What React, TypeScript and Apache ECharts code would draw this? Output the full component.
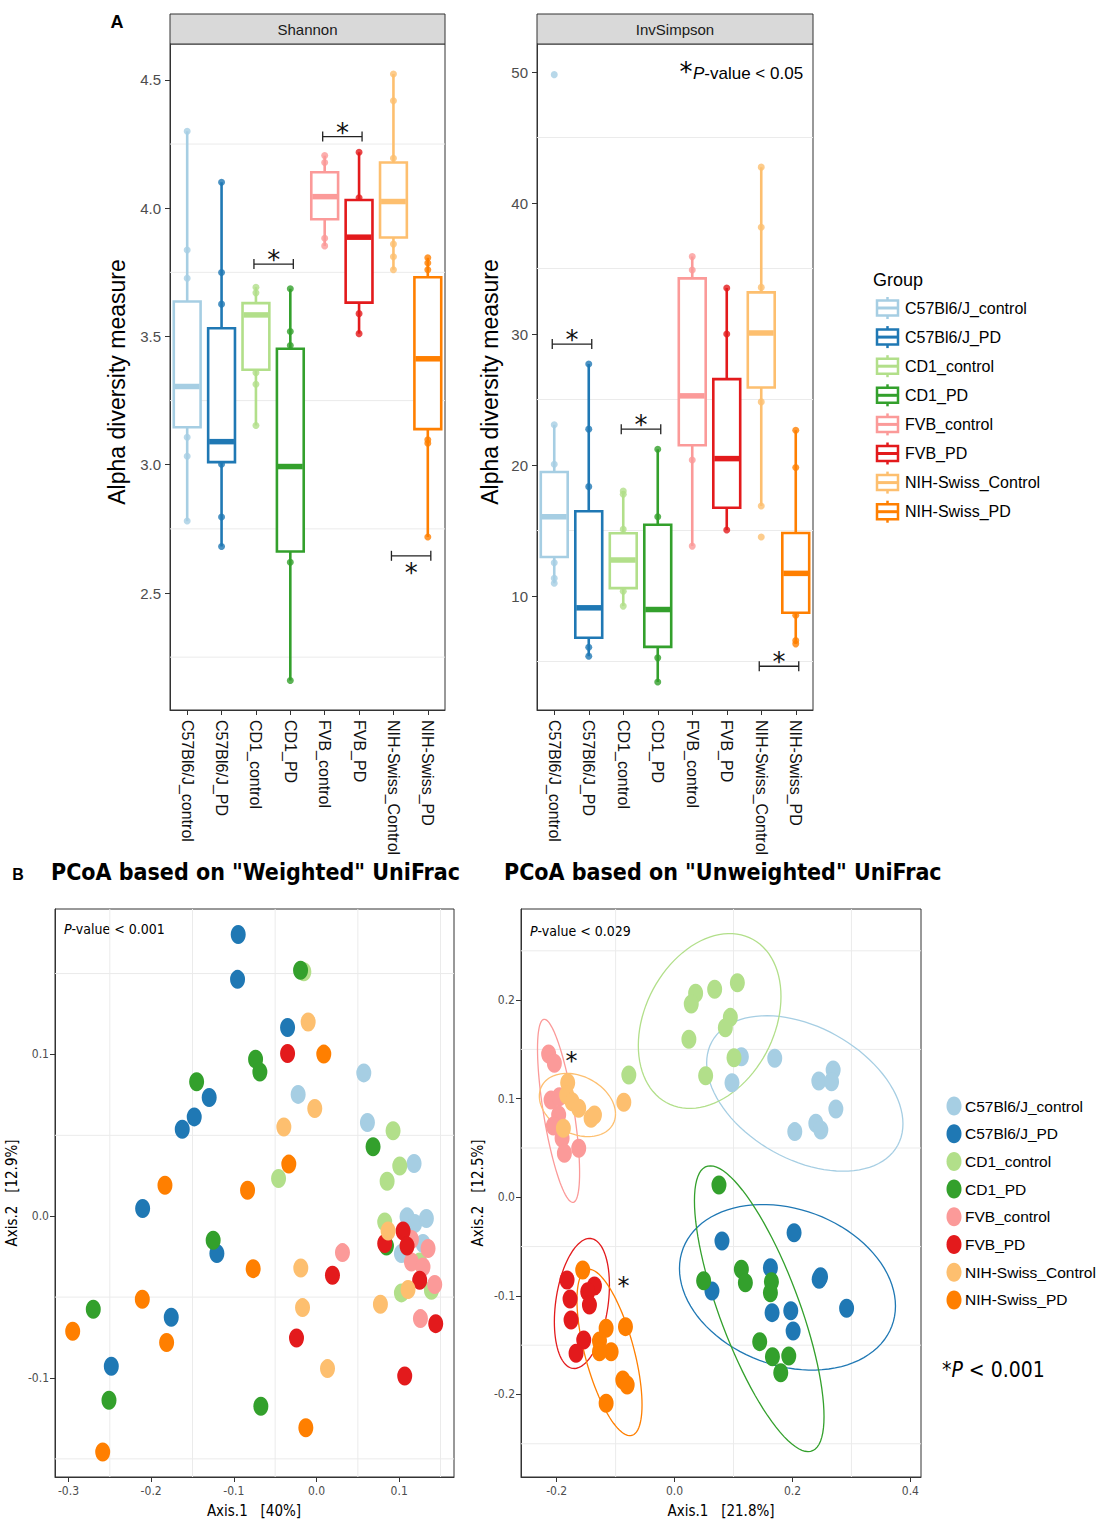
import React, { useEffect, useRef } from 'react';
import * as echarts from 'echarts';

// ---------- data ----------
const GROUPS = ['C57Bl6/J_control', 'C57Bl6/J_PD', 'CD1_control', 'CD1_PD', 'FVB_control', 'FVB_PD', 'NIH-Swiss_Control', 'NIH-Swiss_PD'];
const COLORS = ['#A6CEE3', '#1F78B4', '#B2DF8A', '#33A02C', '#FB9A99', '#E31A1C', '#FDBF6F', '#FF7F00'];

// [min, q1, median, q3, max]
const SHANNON_BOX = [
  [2.78, 3.146, 3.305, 3.636, 4.30],
  [2.681, 3.01, 3.09, 3.532, 4.101],
  [3.153, 3.37, 3.584, 3.63, 3.692],
  [2.159, 2.662, 2.993, 3.452, 3.686],
  [3.853, 3.957, 4.045, 4.14, 4.205],
  [3.511, 3.632, 3.887, 4.032, 4.218],
  [3.76, 3.886, 4.026, 4.178, 4.523],
  [2.718, 3.139, 3.413, 3.731, 3.807],
];
const SHANNON_POINTS = [
  [4.30, 3.837, 3.727, 3.107, 3.033, 2.781],
  [4.101, 3.749, 3.626, 3.002, 2.796, 2.681],
  [3.692, 3.67, 3.359, 3.314, 3.153],
  [3.686, 3.519, 3.465, 2.62, 2.159],
  [4.205, 4.178, 3.883, 3.853],
  [4.218, 4.041, 3.589, 3.511],
  [4.523, 4.419, 4.195, 3.86, 3.811, 3.76],
  [3.807, 3.786, 3.76, 3.097, 3.084, 2.718],
];
const INVS_BOX = [
  [10.97, 12.98, 16.05, 19.47, 23.07],
  [5.41, 6.81, 9.1, 16.47, 27.71],
  [9.23, 10.6, 12.75, 14.79, 18.02],
  [3.44, 6.12, 8.97, 15.44, 21.2],
  [13.81, 21.51, 25.28, 34.25, 35.91],
  [15.04, 16.74, 20.49, 26.56, 33.52],
  [16.87, 25.92, 30.08, 33.18, 42.74],
  [6.35, 8.72, 11.73, 14.81, 22.66],
];
const INVS_POINTS = [
  [49.8, 23.07, 20.06, 12.54, 11.35, 10.97],
  [27.71, 22.74, 18.35, 6.09, 5.41],
  [18.02, 17.77, 15.09, 10.37, 9.23],
  [21.2, 16.05, 5.28, 3.44],
  [35.91, 34.89, 20.39, 13.81],
  [33.52, 30.0, 15.04],
  [42.74, 38.15, 33.56, 24.82, 16.87, 14.5],
  [22.66, 19.81, 8.54, 6.6, 6.35],
];
// [group a, group b, y value, direction of star (1 above, -1 below)]
const SHANNON_SIG = [[2, 3, 3.782, 1], [4, 5, 4.279, 1], [6, 7, 2.645, -1]];
const INVS_SIG = [[0, 1, 29.23, 1], [2, 3, 22.74, 1], [6, 7, 4.64, 1]];

const SHANNON_TICKS = [2.5, 3.0, 3.5, 4.0, 4.5];
const SHANNON_GRID = [2.25, 2.75, 3.25, 3.75, 4.25];
const INVS_TICKS = [10, 20, 30, 40, 50];
const INVS_GRID = [5, 15, 25, 35, 45];

// Weighted UniFrac PCoA points per group [Axis.1, Axis.2]
const W_C57_CONTROL = [[0.0572, 0.0886], [-0.0222, 0.0753], [0.0616, 0.0579], [0.118, 0.0326], [0.1095, -0.0004], [0.1188, -0.0045], [0.1329, -0.0014], [0.1288, -0.0169], [0.1027, -0.0231]];
const W_C57_PD = [[-0.0947, 0.1742], [-0.0955, 0.1464], [-0.035, 0.1167], [-0.1298, 0.0734], [-0.1479, 0.0614], [-0.1624, 0.0538], [-0.2103, 0.0048], [-0.1205, -0.0231], [-0.1757, -0.0625], [-0.2482, -0.0928]];
const W_CD1_CONTROL = [[-0.0153, 0.1511], [0.0926, 0.0528], [0.1007, 0.0311], [0.0854, 0.0216], [-0.0459, 0.0233], [0.0825, -0.0035], [0.1248, -0.0283], [0.139, -0.0458], [0.1027, -0.0474]];
const W_CD1_PD = [[-0.0193, 0.1521], [-0.0737, 0.0971], [-0.0685, 0.0892], [-0.145, 0.0831], [0.0684, 0.0429], [0.0846, -0.0184], [-0.125, -0.0148], [-0.27, -0.0575], [-0.251, -0.1138], [-0.0673, -0.1175]];
const W_FVB_CONTROL = [[0.1148, -0.0144], [0.1349, -0.02], [0.1148, -0.0283], [0.1288, -0.0314], [0.143, -0.0422], [0.1257, -0.0633], [0.0314, -0.0225]];
const W_FVB_PD = [[-0.035, 0.1006], [0.1047, -0.0091], [0.0825, -0.0169], [0.1095, -0.0184], [0.1248, -0.0396], [0.1442, -0.0664], [0.1067, -0.0988], [0.0193, -0.0365], [-0.0242, -0.0753]];
const W_NIH_CONTROL = [[-0.0101, 0.12], [-0.0021, 0.0666], [-0.0395, 0.0552], [0.0866, -0.0091], [0.1107, -0.0453], [0.0773, -0.0544], [-0.019, -0.032], [-0.0169, -0.0565], [0.0133, -0.0942]];
const W_NIH_PD = [[0.0088, 0.1002], [-0.0335, 0.0322], [-0.1833, 0.0192], [-0.0834, 0.0161], [-0.0766, -0.0324], [-0.2107, -0.0513], [-0.2949, -0.0711], [-0.1813, -0.0781], [-0.2586, -0.1458], [-0.0129, -0.1307]];
const WEIGHTED = [W_C57_CONTROL, W_C57_PD, W_CD1_CONTROL, W_CD1_PD, W_FVB_CONTROL, W_FVB_PD, W_NIH_CONTROL, W_NIH_PD];

// Unweighted UniFrac PCoA points per group
const U_C57_CONTROL = [[0.1133, 0.1426], [0.1699, 0.141], [0.0974, 0.1162], [0.269, 0.1291], [0.2447, 0.118], [0.2663, 0.1172], [0.2736, 0.0896], [0.2396, 0.075], [0.2481, 0.0683], [0.2039, 0.0666]];
const U_C57_PD = [[0.0804, -0.0443], [0.2027, -0.0359], [0.0634, -0.095], [0.1626, -0.0714], [0.2453, -0.0832], [0.2476, -0.0805], [0.2918, -0.1126], [0.1654, -0.117], [0.1971, -0.115], [0.2011, -0.1356]];
const U_CD1_CONTROL = [[-0.0776, 0.124], [0.0357, 0.2069], [0.0283, 0.196], [0.068, 0.211], [0.1065, 0.2177], [0.0946, 0.1825], [0.0861, 0.172], [0.0243, 0.1602], [0.1008, 0.1416], [0.0527, 0.1233]];
const U_CD1_PD = [[0.0753, 0.0125], [0.0493, -0.0846], [0.1133, -0.073], [0.1201, -0.0866], [0.1643, -0.0856], [0.1626, -0.0968], [0.1444, -0.1464], [0.166, -0.1617], [0.1937, -0.161], [0.1801, -0.1779]];
const U_FVB_CONTROL = [[-0.2136, 0.1453], [-0.2039, 0.1359], [-0.2095, 0.0987], [-0.1954, 0.102], [-0.1966, 0.0835], [-0.2056, 0.0723], [-0.1908, 0.0598], [-0.1869, 0.0446], [-0.1626, 0.0497]];
const U_FVB_PD = [[-0.1824, -0.0839], [-0.1773, -0.1031], [-0.1756, -0.1244], [-0.1541, -0.1447], [-0.1671, -0.1582], [-0.1359, -0.09], [-0.1473, -0.0957], [-0.1444, -0.1092]];
const U_NIH_CONTROL = [[-0.1813, 0.1162], [-0.183, 0.1037], [-0.1738, 0.097], [-0.1626, 0.0903], [-0.1416, 0.0801], [-0.1359, 0.0835], [-0.1886, 0.07], [-0.0861, 0.0963]];
const U_NIH_PD = [[-0.1558, -0.0737], [-0.1161, -0.1329], [-0.1274, -0.1457], [-0.1076, -0.1566], [-0.1274, -0.1566], [-0.0833, -0.1312], [-0.0878, -0.1853], [-0.0804, -0.1904], [-0.1161, -0.2089]];
const UNWEIGHTED = [U_C57_CONTROL, U_C57_PD, U_CD1_CONTROL, U_CD1_PD, U_FVB_CONTROL, U_FVB_PD, U_NIH_CONTROL, U_NIH_PD];

// confidence ellipses: [centre x, centre y, axis-1 dx, axis-1 dy, axis-2 dx, axis-2 dy]
const U_ELLIPSES = [
  [0.2209, 0.1053, 0.1665, -0.0308, 0, -0.0726],
  [0.1915, -0.0913, 0.1832, -0.019, 0, -0.0818],
  [0.0595, 0.1788, 0.121, 0.0249, 0, -0.0851],
  [0.1436, -0.113, 0.1099, -0.1094, 0, -0.0951],
  [-0.1968, 0.0877, 0.0357, -0.0628, 0, -0.0684],
  [-0.1572, -0.1077, 0.0467, 0.0185, 0, -0.0633],
  [-0.1648, 0.0936, 0.0646, -0.009, 0, -0.0308],
  [-0.1104, -0.1574, 0.0552, -0.053, 0, -0.0657],
];
const U_STARS = [[-0.175, 0.1442], [-0.0867, -0.0835]];

const W_XTICKS = [-0.3, -0.2, -0.1, 0.0, 0.1];
const W_YTICKS = [-0.1, 0.0, 0.1];
const W_XGRID = [-0.25, -0.15, -0.05, 0.05, 0.15];
const W_YGRID = [-0.15, -0.05, 0.05, 0.15];
const U_XTICKS = [-0.2, 0.0, 0.2, 0.4];
const U_YTICKS = [-0.2, -0.1, 0.0, 0.1, 0.2];
const U_XGRID = [-0.1, 0.1, 0.3];
const U_YGRID = [-0.25, -0.15, -0.05, 0.05, 0.15, 0.25];

// ---------- styles ----------
const SANS = '"Liberation Sans", Arial, Helvetica, sans-serif';
const COND = '"DejaVu Sans Condensed", "Liberation Sans Narrow", "DejaVu Sans", sans-serif';

const gridLines = (xi: number, yi: number, rows: number[][]) => ({
  type: 'custom', xAxisIndex: xi, yAxisIndex: yi, silent: true, z: 1, clip: false,
  data: rows,
  renderItem: (params: any, api: any) => {
    const cs = params.coordSys;
    const p = api.coord([api.value(0), api.value(1)]);
    const vertical = api.value(2) === 1;
    return {
      type: 'line',
      shape: vertical ? { x1: p[0], y1: cs.y, x2: p[0], y2: cs.y + cs.height } : { x1: cs.x, y1: p[1], x2: cs.x + cs.width, y2: p[1] },
      style: { stroke: '#ebebeb', lineWidth: 1 },
    };
  },
});

const boxSeries = (xi: number, yi: number, boxes: number[][], points: number[][], sig: number[][]) => [
  {
    type: 'custom', xAxisIndex: xi, yAxisIndex: yi, z: 2, silent: true,
    data: boxes.map((b, i) => [i, b[0], b[4]]),
    renderItem: (params: any, api: any) => {
      const i = params.dataIndex;
      const a = api.coord([i, api.value(1)]);
      const b = api.coord([i, api.value(2)]);
      return { type: 'line', shape: { x1: a[0], y1: a[1], x2: b[0], y2: b[1] }, style: { stroke: COLORS[i], lineWidth: 2.6 } };
    },
  },
  {
    type: 'scatter', xAxisIndex: xi, yAxisIndex: yi, z: 3, silent: true, symbolSize: 7,
    data: points.flatMap((arr, i) => arr.map((v) => ({ value: [i, v], itemStyle: { color: COLORS[i] } }))),
  },
  {
    type: 'custom', xAxisIndex: xi, yAxisIndex: yi, z: 4, silent: true,
    data: boxes.map((b, i) => [i, ...b]),
    renderItem: (params: any, api: any) => {
      const i = params.dataIndex;
      const q1 = api.coord([i, api.value(2)]);
      const med = api.coord([i, api.value(3)]);
      const q3 = api.coord([i, api.value(4)]);
      const w = api.size([1, 0])[0] * 0.78;
      const c = COLORS[i];
      return {
        type: 'group',
        children: [
          { type: 'rect', shape: { x: q3[0] - w / 2, y: q3[1], width: w, height: q1[1] - q3[1] }, style: { fill: '#fff', stroke: c, lineWidth: 2.6 } },
          { type: 'line', shape: { x1: med[0] - w / 2 + 1, y1: med[1], x2: med[0] + w / 2 - 1, y2: med[1] }, style: { stroke: c, lineWidth: 5.5 } },
        ],
      };
    },
  },
  {
    type: 'custom', xAxisIndex: xi, yAxisIndex: yi, z: 5, silent: true, clip: false,
    data: sig,
    renderItem: (params: any, api: any) => {
      const p1 = api.coord([api.value(0), api.value(2)]);
      const p2 = api.coord([api.value(1), api.value(2)]);
      const dir = api.value(3);
      const x1 = p1[0] - 2;
      const x2 = p2[0] + 3;
      const y = p1[1];
      const st = { stroke: '#222', lineWidth: 1.3 };
      return {
        type: 'group',
        children: [
          { type: 'line', shape: { x1, y1: y, x2, y2: y }, style: st },
          { type: 'line', shape: { x1, y1: y - 5, x2: x1, y2: y + 5 }, style: st },
          { type: 'line', shape: { x1: x2, y1: y - 5, x2, y2: y + 5 }, style: st },
          {
            type: 'text', x: (x1 + x2) / 2, y: dir > 0 ? y - 4 : y + 17,
            style: { text: '*', fontSize: 26, fontFamily: '"DejaVu Sans", sans-serif', fill: '#111', align: 'center', verticalAlign: 'middle' },
          },
        ],
      };
    },
  },
];

const catXAxis = (gi: number) => ({
  gridIndex: gi, type: 'category', data: GROUPS, boundaryGap: true,
  axisLine: { show: true, onZero: false, lineStyle: { color: '#333' } },
  axisTick: { show: true, alignWithLabel: true, length: 5, lineStyle: { color: '#333' } },
  axisLabel: { rotate: -90, fontSize: 16, color: '#111', fontFamily: SANS, margin: 10, interval: 0 },
  splitLine: { show: false },
});

const valAxis = (gi: number, min: number, max: number, ticks: number[], fmt: (v: number) => string, font: string, size: number, margin: number) => ({
  gridIndex: gi, type: 'value', min, max,
  axisLine: { show: true, onZero: false, lineStyle: { color: '#333' } },
  axisTick: { show: true, length: 5, customValues: ticks, lineStyle: { color: '#333' } },
  axisLabel: { customValues: ticks, formatter: fmt, color: '#4d4d4d', fontSize: size, fontFamily: font, margin },
  splitLine: { show: false },
});

const pcoaFmt = (v: number) => (Math.abs(v) < 1e-9 ? '0.0' : v.toFixed(1));

export default function App() {
  const ref = useRef<HTMLDivElement>(null);

  useEffect(() => {
    if (!ref.current) return;
    const chart = echarts.init(ref.current, null, { renderer: 'svg' });

    const graphics: any[] = [];
    const txt = (x: number, y: number, text: string, extra: any = {}, rot = 0) => {
      graphics.push({ type: 'text', x, y, rotation: rot, style: { text, fill: '#000', fontFamily: SANS, fontSize: 14, align: 'left', verticalAlign: 'middle', ...extra } });
    };

    // panel A decorations
    txt(117, 22, 'A', { fontSize: 18, fontWeight: 'bold', align: 'center' });
    graphics.push({ type: 'rect', shape: { x: 170, y: 14, width: 275, height: 30 }, style: { fill: '#d9d9d9', stroke: '#333', lineWidth: 1 } });
    txt(307.5, 29.5, 'Shannon', { align: 'center', fill: '#1a1a1a', fontSize: 15 });
    graphics.push({ type: 'rect', shape: { x: 537, y: 14, width: 276, height: 30 }, style: { fill: '#d9d9d9', stroke: '#333', lineWidth: 1 } });
    txt(675, 29.5, 'InvSimpson', { align: 'center', fill: '#1a1a1a', fontSize: 15 });
    txt(117, 382, 'Alpha diversity measure', { fontSize: 23, align: 'center' }, Math.PI / 2);
    txt(490, 382, 'Alpha diversity measure', { fontSize: 23, align: 'center' }, Math.PI / 2);
    txt(686, 72, '*', { fontSize: 26, align: 'center', fontFamily: '"DejaVu Sans", sans-serif' });
    txt(693, 73, '{i|P}-value < 0.05', { fontSize: 17, rich: { i: { fontStyle: 'italic', fontSize: 17, fontFamily: SANS } } });

    // legend 1
    txt(873, 280, 'Group', { fontSize: 18 });
    GROUPS.forEach((g, i) => {
      const cy = 308 + i * 29.1;
      const c = COLORS[i];
      graphics.push({ type: 'line', shape: { x1: 887.5, y1: cy - 11, x2: 887.5, y2: cy + 11 }, style: { stroke: c, lineWidth: 2.5 } });
      graphics.push({ type: 'rect', shape: { x: 877, y: cy - 7.5, width: 21, height: 15 }, style: { fill: '#fff', stroke: c, lineWidth: 2.5 } });
      graphics.push({ type: 'line', shape: { x1: 877, y1: cy, x2: 898, y2: cy }, style: { stroke: c, lineWidth: 3 } });
      txt(905, cy, g, { fontSize: 16 });
    });

    // panel B decorations
    txt(18, 874, 'B', { fontSize: 16, fontWeight: 'bold', align: 'center' });
    txt(51, 872, 'PCoA based on "Weighted" UniFrac', { fontSize: 23, fontWeight: 'bold', fontFamily: COND });
    txt(504, 872, 'PCoA based on "Unweighted" UniFrac', { fontSize: 23, fontWeight: 'bold', fontFamily: COND });
    txt(64, 929, '{i|P}-value < 0.001', { fontSize: 14, fontFamily: COND, rich: { i: { fontStyle: 'italic', fontSize: 14, fontFamily: COND } } });
    txt(530, 931, '{i|P}-value < 0.029', { fontSize: 14, fontFamily: COND, rich: { i: { fontStyle: 'italic', fontSize: 14, fontFamily: COND } } });
    txt(254, 1511, 'Axis.1   [40%]', { fontSize: 15, fontFamily: COND, align: 'center' });
    txt(721, 1511, 'Axis.1   [21.8%]', { fontSize: 15, fontFamily: COND, align: 'center' });
    txt(12, 1193, 'Axis.2   [12.9%]', { fontSize: 15, fontFamily: COND, align: 'center' }, Math.PI / 2);
    txt(478, 1193, 'Axis.2   [12.5%]', { fontSize: 15, fontFamily: COND, align: 'center' }, Math.PI / 2);

    // legend 2
    GROUPS.forEach((g, i) => {
      const cy = 1106 + i * 27.7;
      graphics.push({ type: 'ellipse', shape: { cx: 954, cy, rx: 7.5, ry: 9.5 }, style: { fill: COLORS[i] } });
      txt(965, cy, g, { fontSize: 15.5 });
    });
    txt(942, 1370, '*{i|P} < 0.001', { fontSize: 21, fontFamily: COND, rich: { i: { fontStyle: 'italic', fontSize: 21, fontFamily: COND } } });

    const scatterSeries = (xi: number, groups: number[][][]) =>
      groups.map((pts, i) => ({
        type: 'scatter', name: GROUPS[i], xAxisIndex: xi, yAxisIndex: xi, z: 3 + i * 0.01, silent: true,
        symbol: 'circle', symbolSize: [15, 19],
        itemStyle: { color: COLORS[i], opacity: 1 },
        data: pts,
      }));

    const option: any = {
      animation: false,
      backgroundColor: '#fff',
      grid: [
        { left: 170, top: 44, width: 275, height: 666, show: true, borderColor: '#333', borderWidth: 1, backgroundColor: '#fff' },
        { left: 537, top: 44, width: 276, height: 666, show: true, borderColor: '#333', borderWidth: 1, backgroundColor: '#fff' },
        { left: 55, top: 909, width: 399, height: 568, show: true, borderColor: '#333', borderWidth: 1, backgroundColor: '#fff' },
        { left: 521, top: 909, width: 400, height: 568, show: true, borderColor: '#333', borderWidth: 1, backgroundColor: '#fff' },
      ],
      xAxis: [
        catXAxis(0),
        catXAxis(1),
        valAxis(2, -0.3163, 0.1663, W_XTICKS, pcoaFmt, COND, 12, 8),
        valAxis(3, -0.2605, 0.418, U_XTICKS, pcoaFmt, COND, 12, 8),
      ],
      yAxis: [
        valAxis(0, 2.044, 4.64, SHANNON_TICKS, (v: number) => v.toFixed(1), SANS, 15, 9),
        valAxis(1, 1.3, 52.14, INVS_TICKS, (v: number) => String(Math.round(v)), SANS, 15, 9),
        valAxis(2, -0.1612, 0.1899, W_YTICKS, pcoaFmt, COND, 12, 6),
        valAxis(3, -0.2837, 0.2924, U_YTICKS, pcoaFmt, COND, 12, 6),
      ],
      series: [
        gridLines(0, 0, SHANNON_GRID.map((v) => [0, v, 0])),
        gridLines(1, 1, INVS_GRID.map((v) => [0, v, 0])),
        gridLines(2, 2, [...W_XGRID.map((v) => [v, 0, 1]), ...W_YGRID.map((v) => [0, v, 0])]),
        gridLines(3, 3, [...U_XGRID.map((v) => [v, 0, 1]), ...U_YGRID.map((v) => [0, v, 0])]),
        ...boxSeries(0, 0, SHANNON_BOX, SHANNON_POINTS, SHANNON_SIG),
        ...boxSeries(1, 1, INVS_BOX, INVS_POINTS, INVS_SIG),
        ...scatterSeries(2, WEIGHTED),
        {
          type: 'custom', xAxisIndex: 3, yAxisIndex: 3, z: 2, silent: true, clip: false,
          data: U_ELLIPSES,
          renderItem: (params: any, api: any) => {
            const e = U_ELLIPSES[params.dataIndex];
            const pts: number[][] = [];
            for (let k = 0; k <= 96; k++) {
              const t = (k / 96) * Math.PI * 2;
              pts.push(api.coord([e[0] + e[2] * Math.cos(t) + e[4] * Math.sin(t), e[1] + e[3] * Math.cos(t) + e[5] * Math.sin(t)]));
            }
            return { type: 'polyline', shape: { points: pts }, style: { stroke: COLORS[params.dataIndex], lineWidth: 1.3, fill: 'none' } };
          },
        },
        ...scatterSeries(3, UNWEIGHTED),
        {
          type: 'custom', xAxisIndex: 3, yAxisIndex: 3, z: 6, silent: true, clip: false,
          data: U_STARS,
          renderItem: (params: any, api: any) => {
            const p = api.coord([api.value(0), api.value(1)]);
            return { type: 'text', x: p[0], y: p[1] + 6, style: { text: '*', fontSize: 24, fontFamily: '"DejaVu Sans", sans-serif', fill: '#111', align: 'center', verticalAlign: 'middle' } };
          },
        },
      ],
      graphic: { elements: graphics },
    };

    chart.setOption(option);
    return () => chart.dispose();
  }, []);

  return <div ref={ref} style={{ position: 'absolute', left: 0, top: 0, width: 1102, height: 1521 }} />;
}
